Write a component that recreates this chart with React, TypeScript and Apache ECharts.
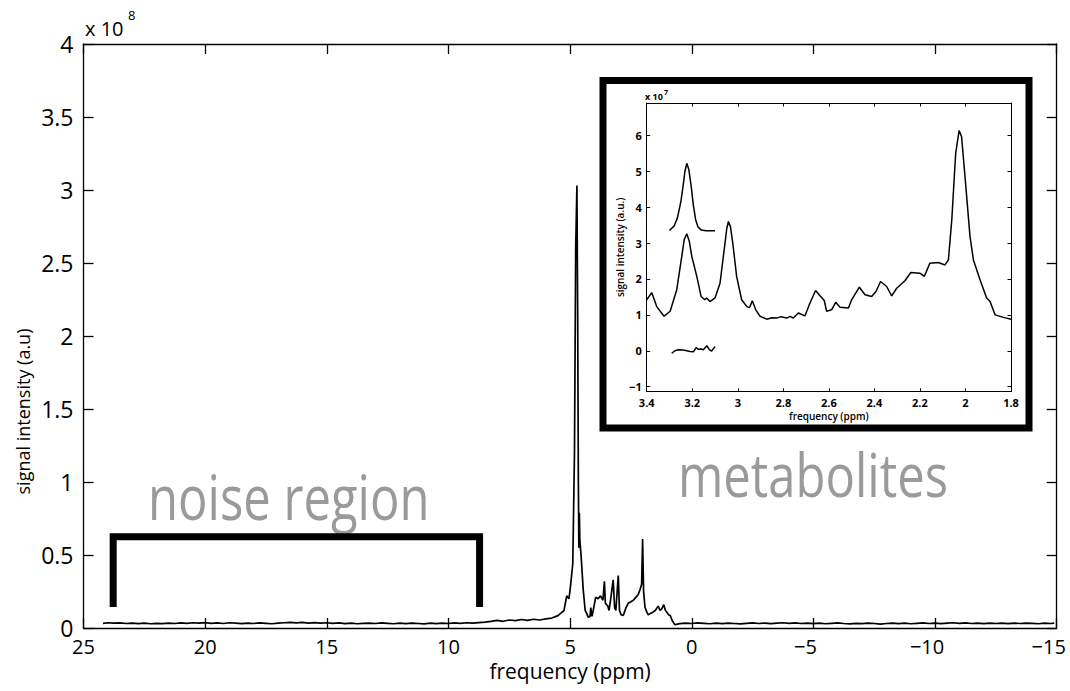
import React, { useEffect, useRef } from "react";
import * as echarts from "echarts";

// ---------- Main spectrum (ppm, signal in units of 1e8) ----------
const mainSpectrum: [number, number][] = [
  [24.2, 0.032], [24.0, 0.036], [23.75, 0.033], [23.5, 0.035], [23.25, 0.031], [23.0, 0.034],
  [22.75, 0.030], [22.5, 0.033], [22.25, 0.029], [22.0, 0.032], [21.75, 0.030], [21.5, 0.034],
  [21.25, 0.031], [21.0, 0.035], [20.75, 0.032], [20.5, 0.036], [20.25, 0.033], [20.0, 0.037],
  [19.75, 0.032], [19.5, 0.035], [19.25, 0.031], [19.0, 0.036], [18.75, 0.033], [18.5, 0.030],
  [18.25, 0.034], [18.0, 0.031], [17.75, 0.035], [17.5, 0.032], [17.25, 0.029], [17.0, 0.033],
  [16.75, 0.036], [16.5, 0.039], [16.25, 0.035], [16.0, 0.038], [15.75, 0.034], [15.5, 0.037],
  [15.25, 0.033], [15.0, 0.036], [14.75, 0.032], [14.5, 0.035], [14.25, 0.030], [14.0, 0.033],
  [13.75, 0.029], [13.5, 0.032], [13.25, 0.034], [13.0, 0.031], [12.75, 0.035], [12.5, 0.032],
  [12.25, 0.029], [12.0, 0.033], [11.75, 0.030], [11.5, 0.034], [11.25, 0.031], [11.0, 0.028],
  [10.75, 0.033], [10.5, 0.030], [10.25, 0.034], [10.0, 0.031], [9.75, 0.035], [9.5, 0.032],
  [9.25, 0.036], [9.0, 0.033], [8.75, 0.037], [8.5, 0.040], [8.25, 0.045], [8.0, 0.052],
  [7.75, 0.046], [7.5, 0.055], [7.25, 0.050], [7.0, 0.058], [6.75, 0.052], [6.5, 0.060],
  [6.25, 0.055], [6.0, 0.062], [5.75, 0.068], [5.5, 0.085], [5.39, 0.10], [5.25, 0.12],
  [5.14, 0.22], [5.05, 0.20], [5.0, 0.26], [4.89, 0.44], [4.82, 1.2], [4.77, 2.6],
  [4.72, 3.03], [4.69, 2.2], [4.66, 1.0], [4.64, 0.55], [4.62, 0.79], [4.60, 0.60],
  [4.55, 0.50], [4.46, 0.26], [4.38, 0.12], [4.32, 0.10], [4.25, 0.073], [4.18, 0.08],
  [4.15, 0.14], [4.10, 0.08], [4.05, 0.12], [3.95, 0.21], [3.85, 0.20], [3.75, 0.22],
  [3.65, 0.19], [3.59, 0.32], [3.55, 0.17], [3.45, 0.15], [3.40, 0.12], [3.33, 0.20],
  [3.23, 0.33], [3.17, 0.14], [3.12, 0.12], [3.02, 0.36], [2.97, 0.12], [2.90, 0.09],
  [2.81, 0.087], [2.70, 0.14], [2.61, 0.17], [2.50, 0.18], [2.40, 0.19], [2.30, 0.21],
  [2.20, 0.23], [2.13, 0.26], [2.06, 0.30], [2.02, 0.61], [1.98, 0.25], [1.92, 0.14],
  [1.85, 0.11], [1.79, 0.09], [1.70, 0.10], [1.58, 0.11], [1.50, 0.12], [1.38, 0.15],
  [1.30, 0.12], [1.24, 0.13], [1.15, 0.16], [1.08, 0.12], [1.03, 0.11], [0.95, 0.09],
  [0.89, 0.087], [0.80, 0.05], [0.69, 0.022], [0.5, 0.030], [0.25, 0.034], [0.0, 0.031],
  [-0.25, 0.035], [-0.5, 0.032], [-0.75, 0.029], [-1.0, 0.033], [-1.25, 0.030], [-1.5, 0.034],
  [-1.75, 0.031], [-2.0, 0.028], [-2.25, 0.032], [-2.5, 0.035], [-2.75, 0.031], [-3.0, 0.034],
  [-3.25, 0.030], [-3.5, 0.033], [-3.75, 0.036], [-4.0, 0.032], [-4.25, 0.035], [-4.5, 0.031],
  [-4.75, 0.034], [-5.0, 0.030], [-5.25, 0.033], [-5.5, 0.029], [-5.75, 0.032], [-6.0, 0.035],
  [-6.25, 0.031], [-6.5, 0.028], [-6.75, 0.032], [-7.0, 0.030], [-7.25, 0.034], [-7.5, 0.031],
  [-7.75, 0.027], [-8.0, 0.031], [-8.25, 0.034], [-8.5, 0.030], [-8.75, 0.033], [-9.0, 0.029],
  [-9.25, 0.032], [-9.5, 0.035], [-9.75, 0.031], [-10.0, 0.034], [-10.25, 0.030], [-10.5, 0.033],
  [-10.75, 0.036], [-11.0, 0.032], [-11.25, 0.035], [-11.5, 0.031], [-11.75, 0.034], [-12.0, 0.030],
  [-12.25, 0.033], [-12.5, 0.031], [-12.75, 0.034], [-13.0, 0.030], [-13.25, 0.033], [-13.5, 0.031],
  [-13.75, 0.034], [-14.0, 0.032], [-14.25, 0.029], [-14.5, 0.033], [-14.75, 0.031], [-14.9, 0.034],
];

// "noise region" bracket (ppm, 1e8)
const noiseBracket: [number, number][] = [
  [23.78, 0.144], [23.78, 0.625], [8.72, 0.625], [8.72, 0.144],
];

// ---------- Inset (ppm, signal in units of 1e7) ----------
const insetSpectrum: [number, number][] = [
  [3.4, 1.42], [3.378, 1.62], [3.356, 1.23], [3.324, 0.96], [3.297, 1.1], [3.268, 1.7],
  [3.246, 2.63], [3.235, 3.1], [3.224, 3.26], [3.213, 3.05], [3.202, 2.63], [3.18, 2.07],
  [3.161, 1.51], [3.145, 1.42], [3.137, 1.47], [3.122, 1.37], [3.1, 1.47], [3.078, 1.88],
  [3.056, 3.0], [3.048, 3.42], [3.041, 3.6], [3.032, 3.45], [3.022, 3.0], [3.005, 2.07],
  [2.983, 1.42], [2.96, 1.23], [2.949, 1.2], [2.936, 1.39], [2.921, 1.14], [2.902, 0.96],
  [2.873, 0.88], [2.85, 0.92], [2.829, 0.91], [2.81, 0.95], [2.785, 0.91], [2.77, 0.96],
  [2.756, 0.91], [2.734, 1.05], [2.705, 0.97], [2.683, 1.33], [2.658, 1.68], [2.639, 1.53],
  [2.62, 1.4], [2.61, 1.1], [2.588, 1.14], [2.57, 1.35], [2.551, 1.21], [2.514, 1.19],
  [2.5, 1.42], [2.466, 1.77], [2.441, 1.56], [2.412, 1.51], [2.393, 1.65], [2.373, 1.93],
  [2.346, 1.79], [2.324, 1.53], [2.302, 1.74], [2.266, 1.95], [2.24, 2.18], [2.2, 2.16],
  [2.181, 2.07], [2.156, 2.44], [2.119, 2.46], [2.09, 2.39], [2.075, 2.53], [2.06, 3.65],
  [2.043, 5.5], [2.028, 6.13], [2.017, 5.96], [2.002, 4.85], [1.98, 3.18], [1.965, 2.53],
  [1.936, 1.98], [1.907, 1.47], [1.892, 1.37], [1.87, 1.0], [1.833, 0.93], [1.8, 0.88],
];

const insetFitPeak: [number, number][] = [
  [3.30, 3.35], [3.28, 3.47], [3.265, 3.7], [3.25, 4.15], [3.24, 4.6], [3.232, 5.0],
  [3.224, 5.22], [3.215, 5.05], [3.205, 4.6], [3.195, 4.05], [3.185, 3.65], [3.175, 3.45],
  [3.16, 3.36], [3.14, 3.34], [3.1, 3.34],
];

const insetResidual: [number, number][] = [
  [3.29, -0.07], [3.276, 0.0], [3.261, 0.03], [3.239, 0.02], [3.21, -0.02], [3.195, -0.03],
  [3.183, 0.09], [3.173, 0.04], [3.161, 0.05], [3.151, 0.03], [3.136, 0.14], [3.125, 0.03],
  [3.115, -0.01], [3.1, 0.12],
];

const insetYTicks = [-1, 0, 1, 2, 3, 4, 5, 6];
const insetXTicks = [1.8, 2.0, 2.2, 2.4, 2.6, 2.8, 3.0, 3.2, 3.4];

const FONT = "'Open Sans', 'Noto Sans', sans-serif";

function fmtMinus(v: number) {
  return v < 0 ? "\u2212" + String(Math.abs(v)) : String(v);
}

// negative labels: centre the digits on the tick, minus sign hangs left
function fmtMainX(v: number) {
  return v < 0 ? "{n|\u2212" + String(Math.abs(v)) + "}" : String(v);
}

export default function App() {
  const ref = useRef<HTMLDivElement>(null);

  useEffect(() => {
    if (!ref.current) return;
    const chart = echarts.init(ref.current, undefined, { renderer: "svg" });

    const mainGrid = { left: 83.5, right: 13.3, top: 44, bottom: 63 };
    const insetGrid = { left: 646.7, right: 59, top: 103, bottom: 299.3 };

    const axisLine = { show: true, onZero: false, lineStyle: { color: "#000", width: 1.3 } };

    const option: any = {
      animation: false,
      backgroundColor: "#fff",
      grid: [
        { ...mainGrid, outerBoundsMode: "none" },
        { ...insetGrid, outerBoundsMode: "none" },
      ],
      xAxis: [
        {
          gridIndex: 0, type: "value", min: -15, max: 25, interval: 5, inverse: true,
          position: "bottom", axisLine,
          axisTick: { show: true, inside: true, length: 10, lineStyle: { color: "#000", width: 1.3 } },
          axisLabel: {
            color: "#000", fontSize: 20, fontFamily: FONT, margin: 8, formatter: fmtMainX,
            rich: { n: { color: "#000", fontSize: 20, fontFamily: FONT, padding: [0, 16, 0, 0] } },
          },
          splitLine: { show: false },
          name: "frequency (ppm)", nameLocation: "middle", nameGap: 32,
          nameTextStyle: { color: "#000", fontSize: 21, fontFamily: FONT },
        },
        {
          gridIndex: 0, type: "value", min: -15, max: 25, interval: 5, inverse: true,
          position: "top", axisLine,
          axisTick: { show: true, inside: true, length: 10, lineStyle: { color: "#000", width: 1.3 } },
          axisLabel: { show: false }, splitLine: { show: false },
        },
        {
          gridIndex: 1, type: "value", min: 1.8, max: 3.4, inverse: true,
          position: "bottom", axisLine: { ...axisLine, lineStyle: { color: "#000", width: 1 } },
          axisTick: { show: true, inside: true, length: 3.5, customValues: insetXTicks, lineStyle: { color: "#000" } },
          axisLabel: { color: "#000", fontSize: 11, fontWeight: "bold", fontFamily: FONT, margin: 5, customValues: insetXTicks },
          splitLine: { show: false },
          name: "frequency (ppm)", nameLocation: "middle", nameGap: 19,
          nameTextStyle: { color: "#000", fontSize: 10, fontWeight: 600, fontFamily: FONT },
        },
        {
          gridIndex: 1, type: "value", min: 1.8, max: 3.4, inverse: true,
          position: "top", axisLine: { ...axisLine, lineStyle: { color: "#000", width: 1 } },
          axisTick: { show: true, inside: true, length: 3.5, customValues: insetXTicks, lineStyle: { color: "#000" } },
          axisLabel: { show: false }, splitLine: { show: false },
        },
      ],
      yAxis: [
        {
          gridIndex: 0, type: "value", min: 0, max: 4, interval: 0.5, position: "left", axisLine,
          axisTick: { show: true, inside: true, length: 10, lineStyle: { color: "#000", width: 1.3 } },
          axisLabel: { color: "#000", fontSize: 23, fontFamily: FONT, margin: 10 },
          splitLine: { show: false },
        },
        {
          gridIndex: 0, type: "value", min: 0, max: 4, interval: 0.5, position: "right", axisLine,
          axisTick: { show: true, inside: true, length: 10, lineStyle: { color: "#000", width: 1.3 } },
          axisLabel: { show: false }, splitLine: { show: false },
        },
        {
          gridIndex: 1, type: "value", min: -1.14, max: 6.9, position: "left",
          axisLine: { ...axisLine, lineStyle: { color: "#000", width: 1 } },
          axisTick: { show: true, inside: true, length: 3.5, customValues: insetYTicks, lineStyle: { color: "#000" } },
          axisLabel: { color: "#000", fontSize: 11, fontWeight: "bold", fontFamily: FONT, margin: 5, customValues: insetYTicks, formatter: fmtMinus },
          splitLine: { show: false },
          name: "signal intensity (a.u.)", nameLocation: "middle", nameGap: 21,
          nameTextStyle: { color: "#000", fontSize: 10, fontWeight: 600, fontFamily: FONT },
        },
        {
          gridIndex: 1, type: "value", min: -1.14, max: 6.9, position: "right",
          axisLine: { ...axisLine, lineStyle: { color: "#000", width: 1 } },
          axisTick: { show: true, inside: true, length: 3.5, customValues: insetYTicks, lineStyle: { color: "#000" } },
          axisLabel: { show: false }, splitLine: { show: false },
        },
      ],
      series: [
        {
          type: "line", xAxisIndex: 0, yAxisIndex: 0, data: mainSpectrum, showSymbol: false,
          symbol: "none", lineStyle: { color: "#000", width: 1.7 }, z: 3,
        },
        {
          type: "line", xAxisIndex: 0, yAxisIndex: 0, data: noiseBracket, showSymbol: false,
          symbol: "none", lineStyle: { color: "#000", width: 7, join: "miter", cap: "butt" },
        },
        {
          type: "line", xAxisIndex: 2, yAxisIndex: 2, data: insetSpectrum, showSymbol: false,
          symbol: "none", lineStyle: { color: "#000", width: 1.5 },
        },
        {
          type: "line", xAxisIndex: 2, yAxisIndex: 2, data: insetFitPeak, showSymbol: false,
          symbol: "none", lineStyle: { color: "#000", width: 1.5 },
        },
        {
          type: "line", xAxisIndex: 2, yAxisIndex: 2, data: insetResidual, showSymbol: false,
          symbol: "none", lineStyle: { color: "#000", width: 1.5 },
        },
      ],
      graphic: [
        {
          type: "rect", shape: { x: 603, y: 80.5, width: 426, height: 347.5 },
          style: { fill: "none", stroke: "#000", lineWidth: 7 },
        },
        {
          type: "text", x: 148, y: 496, scaleY: 1.26,
          style: { text: "noise region", fontSize: 49, fontFamily: FONT, fill: "#9a9a9a", textAlign: "left", align: "left", textVerticalAlign: "middle", verticalAlign: "middle" },
        },
        {
          type: "text", x: 678, y: 474, scaleY: 1.22,
          style: { text: "metabolites", fontSize: 49, fontFamily: FONT, fill: "#9a9a9a", textAlign: "left", align: "left", textVerticalAlign: "middle", verticalAlign: "middle" },
        },
        {
          type: "text", x: 23, y: 411.5, rotation: Math.PI / 2,
          style: { text: "signal intensity (a.u)", fontSize: 18, fontFamily: FONT, fill: "#000", textAlign: "center", align: "center", textVerticalAlign: "middle", verticalAlign: "middle" },
        },
        {
          type: "text", x: 85, y: 28,
          style: { text: "x 10", fontSize: 20, fontFamily: FONT, fill: "#000", textAlign: "left", align: "left", textVerticalAlign: "middle", verticalAlign: "middle" },
        },
        {
          type: "text", x: 128, y: 15,
          style: { text: "8", fontSize: 13, fontFamily: FONT, fill: "#000", textAlign: "left", align: "left", textVerticalAlign: "middle", verticalAlign: "middle" },
        },
        {
          type: "text", x: 645, y: 96.5,
          style: { text: "x 10", fontSize: 9, fontWeight: "bold", fontFamily: FONT, fill: "#000", textAlign: "left", align: "left", textVerticalAlign: "middle", verticalAlign: "middle" },
        },
        {
          type: "text", x: 664, y: 92,
          style: { text: "7", fontSize: 7, fontWeight: "bold", fontFamily: FONT, fill: "#000", textAlign: "left", align: "left", textVerticalAlign: "middle", verticalAlign: "middle" },
        },
      ],
    };

    chart.setOption(option);
    return () => chart.dispose();
  }, []);

  return (
    <div
      ref={ref}
      style={{ position: "absolute", left: 0, top: 0, width: 1070, height: 691, background: "#fff" }}
    />
  );
}
